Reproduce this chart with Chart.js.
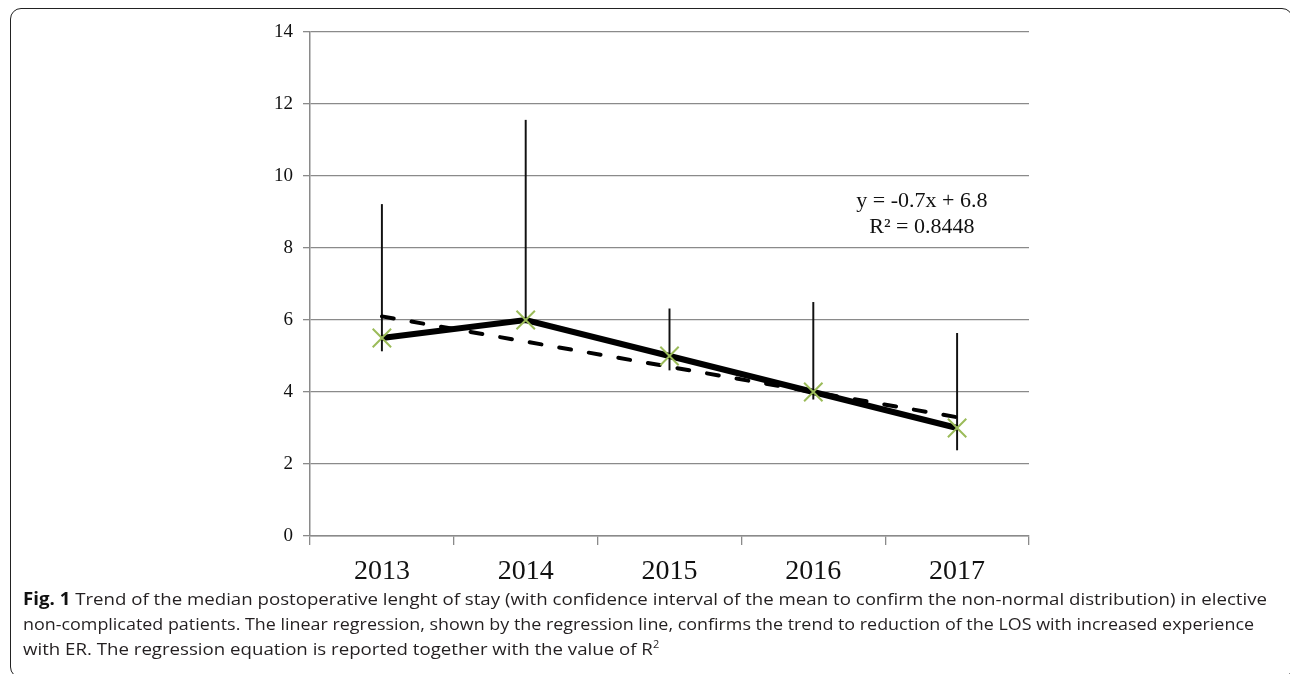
<!DOCTYPE html>
<html><head><meta charset="utf-8">
<script src="https://cdn.jsdelivr.net/npm/chart.js@4.4.1/dist/chart.umd.min.js"></script>
<style>
html,body{margin:0;padding:0;background:#fff;}
body{width:1290px;height:674px;position:relative;overflow:hidden;}
#frame{position:absolute;left:10px;top:8px;width:1283px;height:670px;border:1.5px solid #222;border-radius:11px;box-sizing:border-box;}
#wrap{position:absolute;left:0;top:0;width:1290px;height:674px;}
.cap{position:absolute;left:23px;font-family:'Open Sans',sans-serif;font-size:17px;line-height:17px;white-space:nowrap;color:#231f20;transform-origin:0 0;display:inline-block;}
.cap b{font-weight:700;color:#111;}
.cap sup{font-size:10px;line-height:0;vertical-align:7px;}
</style></head>
<body>
<div id="frame"></div>
<div id="wrap"><canvas id="c"></canvas></div>
<div class="cap" id="l1" data-w="1244" style="top:590px"><b>Fig. 1</b> Trend of the median postoperative lenght of stay (with confidence interval of the mean to confirm the non-normal distribution) in elective</div>
<div class="cap" id="l2" data-w="1231" style="top:615px">non-complicated patients. The linear regression, shown by the regression line, confirms the trend to reduction of the LOS with increased experience</div>
<div class="cap" id="l3" style="top:640px">with ER. The regression equation is reported together with the value of R<sup>2</sup></div>
<script>
const categories = ['2013', '2014', '2015', '2016', '2017'];
const medianLOS = [5.5, 6.0, 5.0, 4.0, 3.0];
const ciLow = [5.14, 5.95, 4.61, 3.8, 2.39];
const ciHigh = [9.21, 11.55, 6.31, 6.49, 5.63];
const trendLOS = [6.1, 5.4, 4.7, 4.0, 3.3];
const yTickValues = [0, 2, 4, 6, 8, 10, 12, 14];
const equationLines = ['y = -0.7x + 6.8', 'R\u00B2 = 0.8448'];

const gridGray = '#8a8a8a';

const eqPlugin = {
  id: 'eq',
  afterDatasetsDraw(chart) {
    const { ctx, chartArea: a } = chart;
    ctx.save();
    ctx.font = '22px "Liberation Serif"';
    ctx.fillStyle = '#111';
    ctx.textAlign = 'center';
    ctx.textBaseline = 'alphabetic';
    const x = a.left + (a.right - a.left) * 0.851;
    ctx.fillText(equationLines[0], x, a.top + 174.5);
    ctx.fillText(equationLines[1], x, a.top + 200.7);
    ctx.restore();
  }
};

new Chart(document.getElementById('c'), {
  type: 'line',
  data: {
    labels: categories,
    datasets: [
      {
        type: 'line', data: medianLOS, borderColor: '#000', borderWidth: 6,
        pointStyle: 'crossRot', pointRadius: 13, pointBorderColor: '#9bbb59',
        pointBorderWidth: 2, pointBackgroundColor: 'rgba(0,0,0,0)', tension: 0, order: 0
      },
      {
        type: 'line', data: trendLOS, borderColor: '#000', borderWidth: 4,
        borderDash: [12, 18], borderCapStyle: 'round', pointRadius: 0, tension: 0, order: 1
      },
      {
        type: 'bar', data: categories.map((c, i) => [ciLow[i], ciHigh[i]]),
        backgroundColor: '#111', borderWidth: 0, barThickness: 1.3, order: 2
      }
    ]
  },
  options: {
    responsive: true, maintainAspectRatio: false, animation: false, events: [],
    layout: { padding: { left: 0, top: 32, right: 261, bottom: 58 } },
    plugins: { legend: { display: false }, tooltip: { enabled: false } },
    scales: {
      x: {
        offset: true,
        grid: { offset: true, drawOnChartArea: false, drawTicks: true, tickLength: 9, color: gridGray, lineWidth: 1.3 },
        border: { color: gridGray, width: 1.5 },
        ticks: { font: { family: 'Liberation Serif', size: 28 }, color: '#111', padding: 10, maxRotation: 0 },
        afterFit(s) { s.height = 80; }
      },
      y: {
        min: 0, max: 14,
        afterBuildTicks(s) { s.ticks = yTickValues.map(v => ({ value: v })); },
        ticks: { font: { family: 'Liberation Serif', size: 19 }, color: '#111', padding: 10 },
        grid: { color: gridGray, lineWidth: 1.3, tickLength: 7 },
        border: { color: gridGray, width: 1.5 },
        afterFit(s) { s.width = 310; }
      }
    }
  },
  plugins: [eqPlugin]
});

function fitCaps() {
  const caps = document.querySelectorAll('.cap');
  caps.forEach(el => { el.style.transform = 'none'; });
  const w1 = document.getElementById('l1').getBoundingClientRect().width;
  const k1 = w1 > 0 ? 1244 / w1 : 1;
  caps.forEach(el => {
    let k = k1;
    if (el.dataset.w) {
      const w = el.getBoundingClientRect().width;
      if (w > 0) k = parseFloat(el.dataset.w) / w;
    }
    el.style.transform = 'scaleX(' + k + ')';
  });
}
fitCaps();
if (document.fonts && document.fonts.ready) document.fonts.ready.then(fitCaps);
</script>
</body></html>
